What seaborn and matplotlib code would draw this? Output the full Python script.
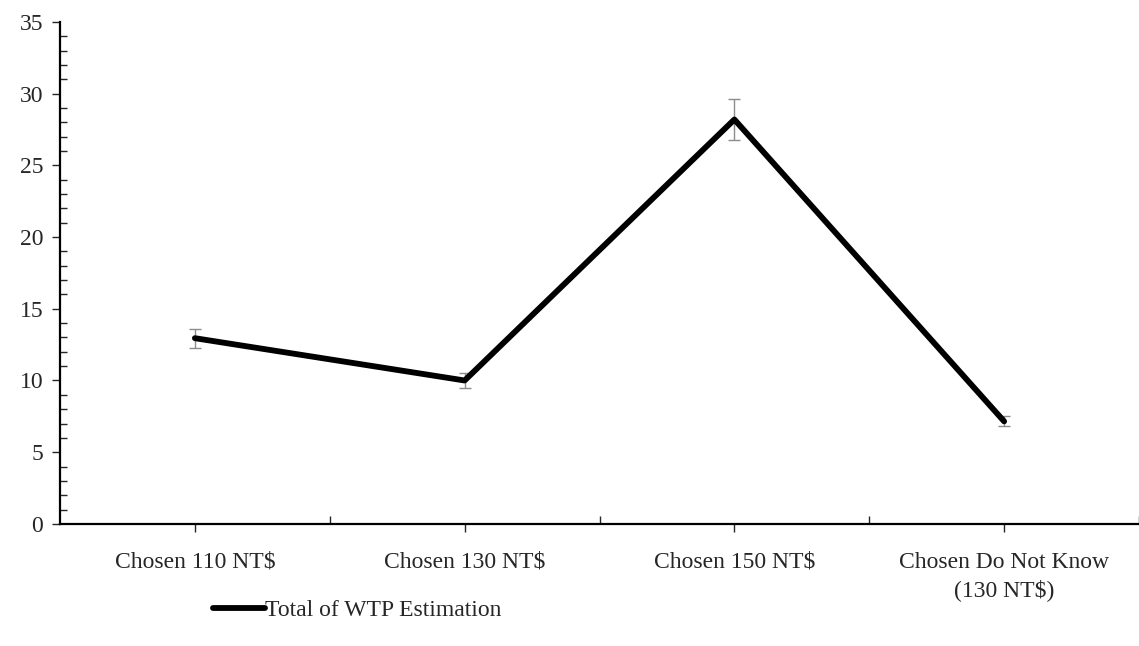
import matplotlib.pyplot as plt
import numpy as np
import pandas as pd
import seaborn as sns
from matplotlib.ticker import MultipleLocator, FixedLocator

# dane
categories = ["Chosen 110 NT$", "Chosen 130 NT$", "Chosen 150 NT$",
              "Chosen Do Not Know\n(130 NT$)"]
wtp = [12.95, 10.0, 28.2, 7.15]
err_low = [12.3, 9.5, 26.8, 6.85]
err_high = [13.6, 10.5, 29.6, 7.55]
series_name = "Total of WTP Estimation"


def main():
    sns.set_theme(style="white")
    plt.rcParams['font.family'] = ['Liberation Serif', 'DejaVu Serif']

    df = pd.DataFrame({"x": np.arange(len(categories)), "y": wtp})

    fig = plt.figure(figsize=(11.39, 6.46), dpi=100)
    ax = fig.add_axes([0.0527, 0.189, 0.9473, 0.777])

    # słupki błędów
    lo = np.array(wtp) - np.array(err_low)
    hi = np.array(err_high) - np.array(wtp)
    ax.errorbar(df["x"], df["y"], yerr=[lo, hi], fmt="none", ecolor="#8c8c8c",
                elinewidth=1.0, capsize=4, capthick=1.0, zorder=2)

    sns.lineplot(data=df, x="x", y="y", ax=ax, color="black", linewidth=4.2,
                 label=series_name, zorder=3, solid_capstyle="round")

    ax.set_xlim(-0.5, len(categories) - 0.5)
    ax.set_ylim(0, 35)
    ax.set_xticks(df["x"])
    ax.set_xticklabels(categories, fontsize=17, linespacing=1.35)
    ax.xaxis.set_minor_locator(FixedLocator(np.arange(0.5, len(categories) - 0.4, 1)))
    ax.yaxis.set_major_locator(MultipleLocator(5))
    ax.yaxis.set_minor_locator(MultipleLocator(1))
    ax.tick_params(axis="y", which="major", direction="out", length=6, width=1,
                   labelsize=17, left=True, pad=6)
    ax.tick_params(axis="y", which="minor", direction="in", length=5, width=1, left=True)
    ax.tick_params(axis="x", which="major", direction="out", length=6, width=1,
                   bottom=True, pad=14)
    ax.tick_params(axis="x", which="minor", direction="in", length=6, width=1, bottom=True)
    ax.set_xlabel("")
    ax.set_ylabel("")

    for s in ["top", "right"]:
        ax.spines[s].set_visible(False)
    for s in ["left", "bottom"]:
        ax.spines[s].set_color("black")
        ax.spines[s].set_linewidth(1.6)

    ax.legend(loc="center", bbox_to_anchor=(0.275, -0.172), frameon=False,
              fontsize=17, handlelength=2.2, handletextpad=0.0)

    fig.savefig("out.png", dpi=100)


if __name__ == '__main__':
    main()
